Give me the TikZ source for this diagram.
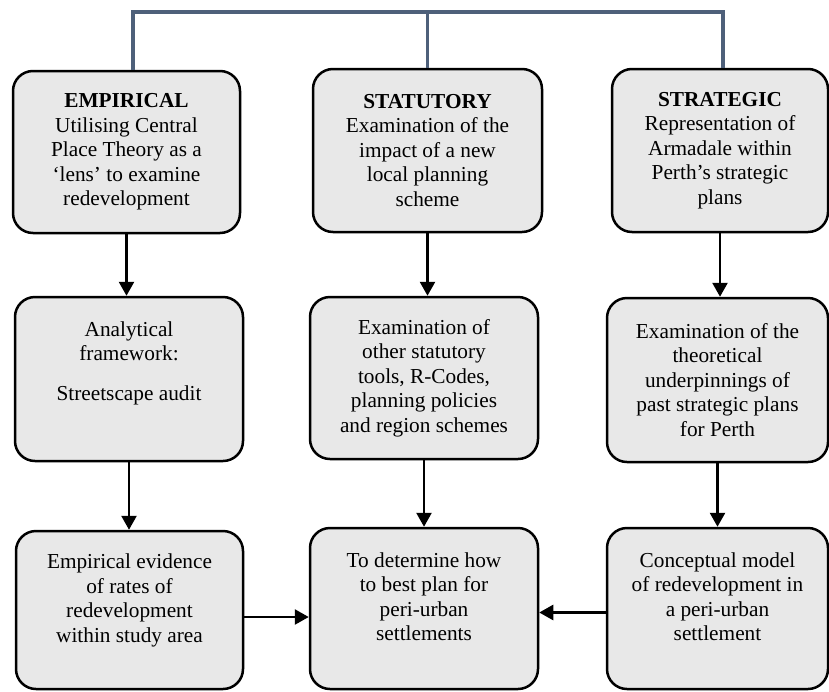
\documentclass[tikz,border=0pt]{standalone}
\usepackage{fontspec}
\setmainfont{Liberation Serif}
\usepackage{tikz}
\usetikzlibrary{arrows.meta, positioning}
\definecolor{slate}{RGB}{78,96,122}
\definecolor{boxgrey}{RGB}{232,232,232}

\begin{document}
\begin{tikzpicture}[x=1pt, y=-1pt, align=center,
    box/.style={draw, line width=2.5pt, rounded corners=20pt, fill=boxgrey,
      inner sep=0pt, font=\fontsize{21.3}{24.5}\selectfont},
    lowtext/.style={text depth=24pt},
    arr/.style={line width=2.6pt, -{Triangle[length=14pt, width=15pt]}},
    bracket/.style={draw=slate, line width=3.3pt}]
  \useasboundingbox (0,0) rectangle (829,691);

  \node[box, minimum width=227pt, minimum height=162pt] (emp) at (126.5,152)
    {\textbf{EMPIRICAL}\\Utilising Central\\Place Theory as a\\‘lens’ to examine\\redevelopment};
  \node[box, minimum width=229pt, minimum height=163pt] (stat) at (427.5,150.5)
    {\textbf{STATUTORY}\\Examination of the\\impact of a new\\local planning\\scheme};
  \node[box, minimum width=216pt, minimum height=163pt] (strat) at (720,150.5)
    {\textbf{STRATEGIC}\\Representation of\\Armadale within\\Perth’s strategic\\plans};

  \node[box, minimum width=228pt, minimum height=164pt, text depth=36pt] (frame) at (129,379)
    {Analytical\\framework:\\[15.5pt]Streetscape audit};
  \node[box, minimum width=228pt, minimum height=162pt] (tools) at (424,378)
    {Examination of\\other statutory\\tools, R-Codes,\\planning policies\\and region schemes};
  \node[box, minimum width=221pt, minimum height=164pt] (theory) at (717.5,380)
    {Examination of the\\theoretical\\underpinnings of\\past strategic plans\\for Perth};

  \node[box, lowtext, minimum width=227pt, minimum height=158pt] (evid) at (129.5,610)
    {Empirical evidence\\of rates of\\redevelopment\\within study area};
  \node[box, lowtext, minimum width=228pt, minimum height=161pt] (plan) at (424,608.5)
    {To determine how\\to best plan for\\peri-urban\\settlements};
  \node[box, lowtext, minimum width=221pt, minimum height=161pt] (model) at (717.5,608.5)
    {Conceptual model\\of redevelopment in\\a peri-urban\\settlement};

  \coordinate (topL) at (133,12);
  \coordinate (topR) at (723,12);
  \draw[bracket] (topL |- emp.north) -- (topL) -- (topR) -- (topR |- strat.north);
  \draw[bracket] (stat.north) -- (stat.north |- topL);

  \draw[arr] (emp.south) -- (emp.south |- frame.north);
  \draw[arr] (stat.south) -- (stat.south |- tools.north);
  \draw[arr] (strat.south) -- (strat.south |- theory.north);
  \draw[arr] (frame.south) -- (frame.south |- evid.north);
  \draw[arr] (tools.south) -- (tools.south |- plan.north);
  \draw[arr] (theory.south) -- (theory.south |- model.north);
  \draw[arr] ([yshift=-7pt]evid.east) -- ([yshift=-7pt]evid.east -| plan.west);
  \draw[arr] ([yshift=-4pt]model.west) -- ([yshift=-4pt]model.west -| plan.east);
\end{tikzpicture}
\end{document}
